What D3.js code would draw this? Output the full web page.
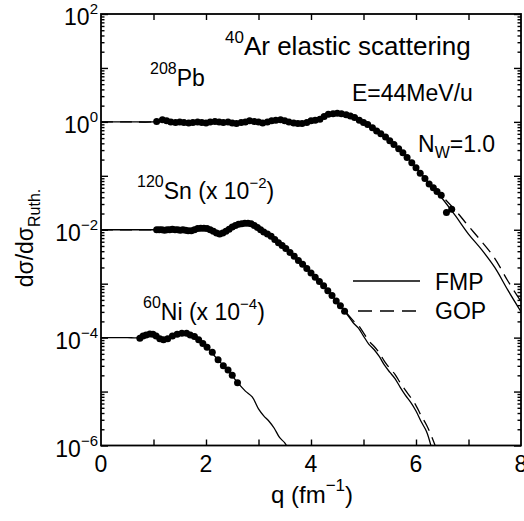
<!DOCTYPE html>
<html><head><meta charset="utf-8">
<script src="https://cdn.jsdelivr.net/npm/d3@7"></script>
<style>
body{margin:0;background:#fff}
text{font-family:"Liberation Sans",Arial,Helvetica,sans-serif;fill:#000}
</style>
</head><body>
<svg id="c" width="524" height="521"></svg>
<script>
// ---------- data ----------
const xTickValues = [0, 2, 4, 6, 8];
const yTickExponents = [2, 0, -2, -4, -6];

// 208Pb experimental points
const pbDataQ = [1.06,1.17,1.25,1.33,1.42,1.50,1.58,1.67,1.75,1.84,1.92,2.00,2.08,2.17,2.25,2.33,2.42,2.50,2.58,2.67,2.75,2.83,2.92,3.00,3.08,3.17,3.25,3.33,3.42,3.50,3.58,3.67,3.75,3.83,3.92,4.00,4.08,4.17,4.25,4.33,4.42,4.50,4.58,4.67,4.75,4.83,4.92,5.00,5.08,5.17,5.25,5.33,5.42,5.50,5.58,5.67,5.75,5.83,5.92,6.00,6.08,6.17,6.25,6.33,6.40,6.48,6.58,6.68];
const pbDataV = [1.02,1.10,1.05,1.00,0.977,1.00,0.977,0.955,0.977,1.00,0.977,0.955,1.00,1.02,1.00,0.977,1.00,0.955,0.933,0.977,1.00,1.05,1.02,1.00,0.955,1.00,1.05,1.07,1.10,1.05,1.00,0.955,0.933,0.933,0.977,1.05,1.07,1.12,1.26,1.38,1.41,1.45,1.41,1.35,1.29,1.20,1.07,0.977,0.891,0.776,0.676,0.603,0.525,0.447,0.380,0.316,0.269,0.219,0.174,0.141,0.112,0.0891,0.0708,0.0603,0.0513,0.0437,0.0209,0.0240];

// 120Sn experimental points (x 10^-2)
const snDataQ = [1.06,1.11,1.16,1.21,1.26,1.31,1.36,1.41,1.46,1.51,1.56,1.61,1.66,1.72,1.78,1.84,1.90,1.96,2.02,2.08,2.14,2.20,2.26,2.32,2.38,2.44,2.50,2.56,2.62,2.68,2.74,2.80,2.86,2.92,2.98,3.04,3.10,3.17,3.24,3.31,3.38,3.45,3.52,3.60,3.68,3.76,3.84,3.92,4.00,4.08,4.16,4.24,4.32,4.40,4.48,4.56,4.64];
const snDataV = [0.0100,0.0100,0.0100,0.00977,0.0100,0.0100,0.0102,0.0100,0.0100,0.00977,0.0100,0.00977,0.00955,0.00955,0.0100,0.0105,0.0107,0.0107,0.0105,0.0100,0.00933,0.00871,0.00832,0.00871,0.00933,0.0102,0.0112,0.0120,0.0126,0.0129,0.0132,0.0132,0.0129,0.0120,0.0110,0.0100,0.00912,0.00832,0.00759,0.00661,0.00575,0.00513,0.00447,0.00380,0.00324,0.00269,0.00229,0.00191,0.00158,0.00132,0.00110,9.12e-4,7.41e-4,6.03e-4,4.79e-4,3.89e-4,3.09e-4];

// 60Ni experimental points (x 10^-4)
const niDataQ = [0.74,0.80,0.86,0.93,0.99,1.05,1.12,1.19,1.27,1.36,1.45,1.54,1.63,1.70,1.78,1.86,1.94,2.02,2.12,2.23,2.33,2.42,2.50,2.60];
const niDataV = [9.77e-5,1.07e-4,1.12e-4,1.17e-4,1.15e-4,1.07e-4,9.55e-5,9.12e-5,9.55e-5,1.07e-4,1.15e-4,1.20e-4,1.20e-4,1.12e-4,1.05e-4,9.12e-5,7.76e-5,6.61e-5,5.37e-5,3.89e-5,3.02e-5,2.51e-5,2.00e-5,1.45e-5];

// FMP (solid) and GOP (dashed) calculations
const pbFmpQ = [0,0.5,1.0,1.2,1.5,2.0,2.5,2.9,3.1,3.4,3.8,4.0,4.2,4.45,4.6,4.8,5.0,5.25,5.5,5.75,6.0,6.25,6.5,6.75,7.0,7.25,7.5,7.75,8.0];
const pbFmpV = [1,1,1,1.05,1.0,0.977,0.977,1.02,0.977,1.07,0.933,1.0,1.17,1.45,1.41,1.23,0.977,0.676,0.447,0.269,0.141,0.0724,0.0380,0.0182,0.00832,0.00427,0.00200,7.59e-4,3.02e-4];
const pbGopQ = [0,0.5,1.0,1.2,1.5,2.0,2.5,2.9,3.1,3.4,3.8,4.0,4.2,4.45,4.6,4.8,5.0,5.25,5.5,5.75,6.0,6.25,6.5,6.75,7.0,7.25,7.5,7.75,8.0];
const pbGopV = [1,1,1,1.05,1.0,0.977,0.977,1.02,0.977,1.07,0.933,1.0,1.17,1.45,1.41,1.23,0.977,0.676,0.447,0.269,0.141,0.0741,0.0417,0.0229,0.0117,0.00603,0.00295,0.00112,4.68e-4];

const snFmpQ = [0,1.0,1.5,1.7,1.9,2.05,2.25,2.45,2.75,2.95,3.2,3.5,3.8,4.1,4.4,4.65,4.8,4.9,5.0,5.1,5.2,5.3,5.4,5.5,5.6,5.7,5.8,5.9,6.0,6.1,6.2,6.3];
const snFmpV = [0.01,0.01,0.01,0.00955,0.0107,0.0102,0.00832,0.0102,0.0132,0.0115,0.00813,0.00468,0.00251,0.00126,6.03e-4,3.02e-4,1.91e-4,1.51e-4,1.07e-4,7.59e-5,6.03e-5,4.47e-5,3.09e-5,2.29e-5,1.74e-5,1.20e-5,8.51e-6,6.31e-6,4.37e-6,2.75e-6,1.82e-6,8.71e-7];
const snGopQ = [0,1.0,1.5,1.7,1.9,2.05,2.25,2.45,2.75,2.95,3.2,3.5,3.8,4.1,4.4,4.65,4.8,4.9,5.0,5.1,5.2,5.3,5.4,5.5,5.6,5.7,5.8,5.9,6.0,6.1,6.2,6.3,6.38];
const snGopV = [0.01,0.01,0.01,0.00955,0.0107,0.0102,0.00832,0.0102,0.0132,0.0115,0.00813,0.00468,0.00251,0.00126,6.03e-4,3.09e-4,2.09e-4,1.70e-4,1.23e-4,8.71e-5,6.92e-5,5.25e-5,3.63e-5,2.69e-5,2.09e-5,1.45e-5,1.05e-5,7.76e-6,5.50e-6,3.55e-6,2.40e-6,1.45e-6,9.12e-7];

const niFmpQ = [0,0.5,0.7,0.95,1.2,1.45,1.62,1.8,2.0,2.2,2.4,2.6,2.75,2.88,3.0,3.1,3.2,3.3,3.4,3.5,3.56];
const niFmpV = [1e-4,1e-4,1e-4,1.17e-4,9.12e-5,1.15e-4,1.20e-4,1.02e-4,6.92e-5,4.17e-5,2.57e-5,1.48e-5,1.02e-5,7.94e-6,4.79e-6,3.55e-6,2.82e-6,2.09e-6,1.41e-6,1.12e-6,8.91e-7];

// ---------- drawing ----------
const svg = d3.select("#c");
const L = 101, R = 521, T = 14, B = 445.5;
const x = d3.scaleLinear().domain([0, 8]).range([L, R]);
const y = d3.scaleLog().domain([1e-6, 1e2]).range([B, T]);

svg.append("defs").append("clipPath").attr("id", "clip")
  .append("rect").attr("x", L).attr("y", T).attr("width", R - L).attr("height", B - T);

const zip = (qs, vs) => qs.map((q, i) => [q, vs[i]]);
const line = d3.line().x(d => x(d[0])).y(d => y(d[1])).curve(d3.curveCatmullRom.alpha(0.5));

const plot = svg.append("g").attr("clip-path", "url(#clip)");
const curves = [
  [pbFmpQ, pbFmpV, null], [pbGopQ, pbGopV, "12,7"],
  [snFmpQ, snFmpV, null], [snGopQ, snGopV, "12,7"],
  [niFmpQ, niFmpV, null]
];
curves.forEach(([q, v, dash]) => {
  plot.append("path").datum(zip(q, v)).attr("d", line)
    .attr("fill", "none").attr("stroke", "#000").attr("stroke-width", 1.3)
    .attr("stroke-dasharray", dash);
});

[[pbDataQ, pbDataV], [snDataQ, snDataV], [niDataQ, niDataV]].forEach(([q, v]) => {
  plot.append("g").selectAll("circle").data(zip(q, v)).join("circle")
    .attr("cx", d => x(d[0])).attr("cy", d => y(d[1])).attr("r", 3.5).attr("fill", "#000");
});

// axes
const xMinor = [1, 2, 3, 4, 5, 6, 7];
const yAll = y.ticks(30);
const isMajor = v => Math.abs(Math.log10(v) - Math.round(Math.log10(v))) < 1e-6;
const yMinor = yAll.filter(v => !isMajor(v));
const yMajor = yAll.filter(v => isMajor(v));

function styleAxis(g) {
  g.select(".domain").remove();
  g.selectAll("line").attr("stroke", "#000").attr("stroke-width", 1.4);
  g.selectAll("text").remove();
}
svg.append("g").attr("transform", `translate(0,${B})`).call(d3.axisBottom(x).tickValues(xMinor).tickSize(-6)).call(styleAxis);
svg.append("g").attr("transform", `translate(0,${T})`).call(d3.axisTop(x).tickValues(xMinor).tickSize(-6)).call(styleAxis);
svg.append("g").attr("transform", `translate(${L},0)`).call(d3.axisLeft(y).tickValues(yMinor).tickSize(-3.5)).call(styleAxis);
svg.append("g").attr("transform", `translate(${L},0)`).call(d3.axisLeft(y).tickValues(yMajor).tickSize(-7)).call(styleAxis);
svg.append("g").attr("transform", `translate(${R},0)`).call(d3.axisRight(y).tickValues(yMinor).tickSize(-3.5)).call(styleAxis);
svg.append("g").attr("transform", `translate(${R},0)`).call(d3.axisRight(y).tickValues(yMajor).tickSize(-7)).call(styleAxis);

svg.append("rect").attr("x", L).attr("y", T).attr("width", R - L).attr("height", B - T)
  .attr("fill", "none").attr("stroke", "#000").attr("stroke-width", 1.8);

// tick labels
svg.append("g").selectAll("text").data(xTickValues).join("text")
  .attr("x", d => x(d)).attr("y", 472).attr("text-anchor", "middle")
  .attr("font-size", 23).text(d => d);

yTickExponents.forEach(e => {
  const t = svg.append("text").attr("x", 98).attr("y", y(Math.pow(10, e)) + 11)
    .attr("text-anchor", "end").attr("font-size", 23);
  t.append("tspan").text("10");
  t.append("tspan").attr("dy", -11).attr("font-size", 15).text(e < 0 ? "\u2212" + (-e) : String(e));
});

// axis titles
const xt = svg.append("text").attr("x", 271).attr("y", 503).attr("font-size", 24);
xt.append("tspan").text("q (fm");
xt.append("tspan").attr("dy", -12).attr("font-size", 17).text("\u22121");
xt.append("tspan").attr("dy", 12).text(")");

const yt = svg.append("text").attr("transform", "translate(33,238) rotate(-90)")
  .attr("text-anchor", "middle").attr("font-size", 23);
yt.append("tspan").text("d\u03c3/d\u03c3");
yt.append("tspan").attr("dy", 7).attr("font-size", 16).text("Ruth.");

// annotations
function supLabel(xp, yp, sup, main, rest, restSup, size, supSize) {
  const t = svg.append("text").attr("x", xp).attr("y", yp).attr("font-size", size || 23);
  t.append("tspan").attr("dy", -12).attr("font-size", supSize || 16).text(sup);
  t.append("tspan").attr("dy", 12).text(main);
  if (rest) {
    t.append("tspan").text(rest);
    t.append("tspan").attr("dy", -11).attr("font-size", 15).text(restSup);
    t.append("tspan").attr("dy", 11).text(")");
  }
}
supLabel(225, 55, "40", "Ar elastic scattering", null, null, 26, 17);
supLabel(150, 86, "208", "Pb");
supLabel(137, 199, "120", "Sn", " (x 10", "\u22122");
supLabel(143, 320, "60", "Ni", " (x 10", "\u22124");

svg.append("text").attr("x", 352).attr("y", 101).attr("font-size", 23).text("E=44MeV/u");
const nw = svg.append("text").attr("x", 418).attr("y", 152).attr("font-size", 23);
nw.append("tspan").text("N");
nw.append("tspan").attr("dy", 6).attr("font-size", 16).text("W");
nw.append("tspan").attr("dy", -6).text("=1.0");

// legend
svg.append("line").attr("x1", 353).attr("x2", 420).attr("y1", 281).attr("y2", 281)
  .attr("stroke", "#000").attr("stroke-width", 1.3);
svg.append("line").attr("x1", 358).attr("x2", 420).attr("y1", 311).attr("y2", 311)
  .attr("stroke", "#000").attr("stroke-width", 1.3).attr("stroke-dasharray", "14,8");
svg.append("text").attr("x", 435).attr("y", 290).attr("font-size", 23).text("FMP");
svg.append("text").attr("x", 435).attr("y", 319).attr("font-size", 23).text("GOP");
</script>
</body></html>
